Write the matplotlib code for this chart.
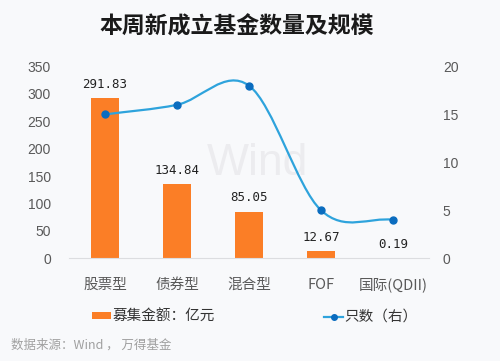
import matplotlib.pyplot as plt
from matplotlib.path import Path
from matplotlib.patches import PathPatch
import numpy as np

plt.rcParams['font.family'] = ['Noto Sans CJK SC', 'DejaVu Sans']

categories = ['股票型', '债券型', '混合型', 'FOF', '国际(QDII)']
amounts = [291.83, 134.84, 85.05, 12.67, 0.19]
counts = [15, 16, 18, 5, 4]
amount_labels = ['291.83', '134.84', '85.05', '12.67', '0.19']

BG = '#f8f9fb'
ORANGE = '#fb7e26'
LINE = '#2ea3dc'
MARK = '#0a6cbf'
GRAY = '#595959'

fig = plt.figure(figsize=(5, 3.61), dpi=100, facecolor=BG)
ax = fig.add_axes([0.138, 0.2848, 0.72, 0.531])
ax.patch.set_alpha(0)
ax2 = ax.twinx()

x = np.arange(len(categories))
ax.bar(x, amounts, width=0.4, color=ORANGE, zorder=2, label='募集金额：亿元')
for xi, v, lab in zip(x, amounts, amount_labels):
    ax.text(xi, v + 13, lab, ha='center', va='bottom', fontsize=9,
            family='DejaVu Sans Mono', color='#222222')

ax.set_xlim(-0.5, len(categories) - 0.5)
ax.set_ylim(0, 350)
ax.set_yticks(range(0, 351, 50))
ax.set_xticks(x)
ax.set_xticklabels(categories, fontsize=10.5, color=GRAY)

ax2.set_ylim(0, 20)
ax2.set_yticks(range(0, 21, 5))

for a in (ax, ax2):
    for s in a.spines.values():
        s.set_visible(False)
    a.tick_params(length=0, labelcolor=GRAY)
    for t in a.get_yticklabels():
        t.set_family(['Liberation Sans', 'DejaVu Sans'])
        t.set_fontsize(10)
ax.spines['bottom'].set_visible(True)
ax.spines['bottom'].set_color('#dcdde0')
ax.tick_params(axis='y', pad=13)
ax.tick_params(axis='x', pad=14)
ax2.tick_params(axis='y', pad=10)

# watermark
ax.text(2.12, 172, 'Wind', ha='center', va='center', fontsize=32, color='#ececef',
        family='Liberation Sans', zorder=1)

# smooth line (Catmull-Rom -> cubic Bezier)
px = x.astype(float)
py = np.array(counts, dtype=float)
n = len(px)
tx = np.zeros(n)
ty = np.zeros(n)
for i in range(n):
    i0 = max(i - 1, 0)
    i1 = min(i + 1, n - 1)
    tx[i] = (px[i1] - px[i0]) / (i1 - i0)
    ty[i] = (py[i1] - py[i0]) / (i1 - i0)
verts = [(px[0], py[0])]
codes = [Path.MOVETO]
k = 1 / 3
for i in range(n - 1):
    verts += [(px[i] + tx[i] * k, py[i] + ty[i] * k),
              (px[i + 1] - tx[i + 1] * k, py[i + 1] - ty[i + 1] * k),
              (px[i + 1], py[i + 1])]
    codes += [Path.CURVE4] * 3
ax2.add_patch(PathPatch(Path(verts, codes), fill=False, edgecolor=LINE, lw=1.6, zorder=3))
ax2.plot(px, py, 'o', color=MARK, ms=5, zorder=4)

# legend proxies
ax2.plot([], [], '-o', color=LINE, mfc=MARK, mec=MARK, ms=4, lw=1.6, label='只数（右）')
h1, l1 = ax.get_legend_handles_labels()
h2, l2 = ax2.get_legend_handles_labels()
leg = fig.legend(h1 + h2, l1 + l2, loc='center', bbox_to_anchor=(0.51, 0.122), ncol=2,
                 frameon=False, fontsize=10.5, columnspacing=7.5, handlelength=1.3,
                 handleheight=0.4, handletextpad=0.1)
for t in leg.get_texts():
    t.set_color('#333333')

fig.text(0.474, 0.925, '本周新成立基金数量及规模', ha='center', va='center',
         fontsize=16.5, fontweight='bold', color='#1a1a1a')
fig.text(0.022, 0.045, '数据来源：Wind ， 万得基金', ha='left', va='center',
         fontsize=9, color='#a0a0a0')

fig.savefig('out.png', dpi=100, facecolor=BG)
